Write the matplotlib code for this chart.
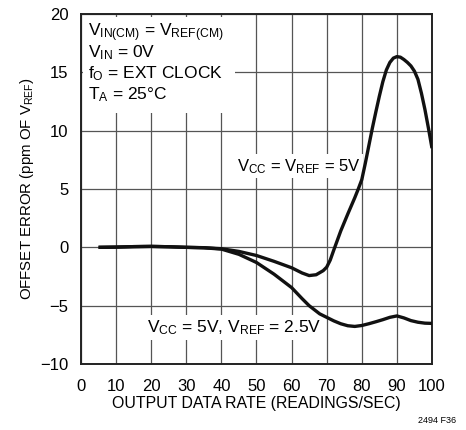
import matplotlib
matplotlib.use("Agg")
import matplotlib.pyplot as plt
from matplotlib.patches import Rectangle

plt.rcParams['font.family'] = ['Liberation Sans Narrow', 'Liberation Sans', 'DejaVu Sans']
plt.rcParams['mathtext.fontset'] = 'custom'
plt.rcParams['mathtext.rm'] = 'Liberation Sans'
plt.rcParams['mathtext.it'] = 'Liberation Sans'
plt.rcParams['mathtext.default'] = 'regular'

# offset error vs output data rate, two supply/reference conditions
rate_5v = [5, 10, 15, 20, 25, 30, 35, 40, 45, 50, 55, 60, 63, 65, 67, 69, 70, 71, 72,
           74, 76, 78, 79, 80, 81, 82, 83, 84, 85, 86, 87, 88, 89, 90, 91, 92, 93,
           94, 95, 96, 97, 98, 99, 100]
err_5v = [0.0, 0.02, 0.06, 0.08, 0.05, 0.0, -0.03, -0.12, -0.35, -0.7, -1.2, -1.75,
          -2.2, -2.42, -2.35, -2.0, -1.7, -1.1, -0.25, 1.4, 2.85, 4.25, 5.0, 5.8, 7.2,
          8.7, 10.2, 11.6, 12.95, 14.2, 15.2, 15.85, 16.22, 16.35, 16.3, 16.1, 15.85,
          15.55, 15.1, 14.4, 13.2, 11.8, 10.2, 8.5]

rate_25v = [5, 10, 15, 20, 25, 30, 35, 40, 45, 50, 55, 60, 63, 65, 68, 70, 72, 74,
            76, 78, 80, 82, 84, 86, 88, 90, 92, 94, 96, 98, 100]
err_25v = [0.0, 0.02, 0.06, 0.08, 0.05, 0.0, -0.04, -0.15, -0.6, -1.3, -2.3, -3.45,
           -4.4, -5.0, -5.7, -6.0, -6.3, -6.55, -6.72, -6.78, -6.7, -6.55, -6.38,
           -6.2, -6.0, -5.88, -6.05, -6.28, -6.42, -6.5, -6.52]

x_ticks = [0, 10, 20, 30, 40, 50, 60, 70, 80, 90, 100]
y_ticks = [-10, -5, 0, 5, 10, 15, 20]
y_tick_labels = ['\u221210', '\u22125', '0', '5', '10', '15', '20']

fig = plt.figure(figsize=(4.66, 4.30), dpi=100)
ax = fig.add_axes([0.1738, 0.1535, 0.7532, 0.8139])

ax.plot(rate_5v, err_5v, color='#111111', lw=2.4, solid_capstyle='butt', zorder=5)
ax.plot(rate_25v, err_25v, color='#111111', lw=2.4, solid_capstyle='butt', zorder=5)

ax.set_xlim(0, 100)
ax.set_ylim(-10, 20)
ax.set_xticks(x_ticks)
ax.set_yticks(y_ticks)
ax.set_yticklabels(y_tick_labels)
ax.tick_params(length=0, labelsize=12, pad=9)
ax.tick_params(axis='x', pad=11)
ax.grid(True, color='#555555', lw=0.9, zorder=1)
ax.set_axisbelow(True)
for s in ax.spines.values():
    s.set_linewidth(1.4)
    s.set_color('#222222')

ax.set_xlabel('OUTPUT DATA RATE (READINGS/SEC)', fontsize=11.4, labelpad=1)
ax.set_ylabel('OFFSET ERROR (ppm OF V$_{REF}$)', fontsize=10.8, labelpad=3)

# conditions block in the upper left, blanking the grid behind it
ax.add_patch(Rectangle((0.007, 0.717), 0.433, 0.274, transform=ax.transAxes,
                       facecolor='white', edgecolor='none', zorder=2))
cond_lines = ['V$_{IN(CM)}$ = V$_{REF(CM)}$', 'V$_{IN}$ = 0V',
              'f$_O$ = EXT CLOCK', 'T$_A$ = 25°C']
for i, line in enumerate(cond_lines):
    ax.text(0.02, 0.935 - i * 0.06, line, transform=ax.transAxes, fontsize=12.5,
            va='baseline', ha='left', zorder=3)

box = dict(facecolor='white', edgecolor='none', pad=2)
ax.text(44.4, 6.56, 'V$_{CC}$ = V$_{REF}$ = 5V', fontsize=12, va='baseline',
        ha='left', bbox=box, zorder=3)
ax.text(18.7, -7.28, 'V$_{CC}$ = 5V, V$_{REF}$ = 2.5V', fontsize=12.5,
        va='baseline', ha='left', bbox=box, zorder=3)

fig.text(0.938, 0.012, '2494 F36', fontsize=6.5, ha='center', va='bottom')

fig.savefig('out.png', dpi=100)
